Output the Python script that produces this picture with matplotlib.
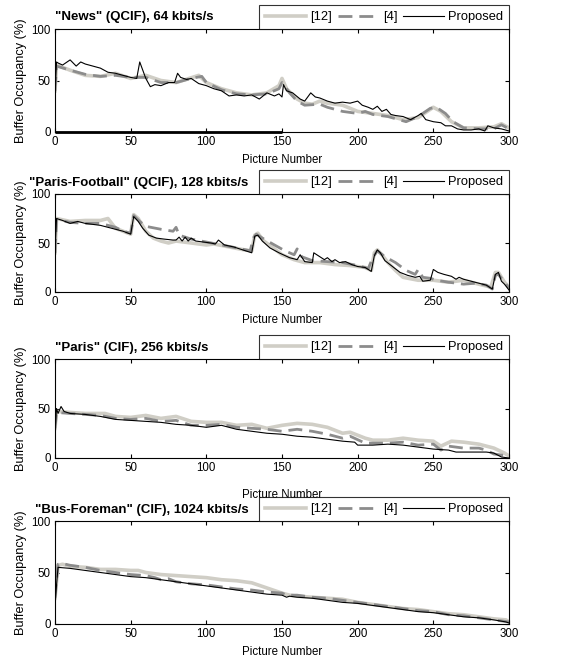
import matplotlib
matplotlib.use("Agg")
import matplotlib.pyplot as plt

plt.rcParams['font.family'] = ['Liberation Sans', 'DejaVu Sans']

titles = ['"News" (QCIF), 64 kbits/s',
          '"Paris-Football" (QCIF), 128 kbits/s',
          '"Paris" (CIF), 256 kbits/s',
          '"Bus-Foreman" (CIF), 1024 kbits/s']
series_names = ['[12]', '[4]', 'Proposed']
xticks = [0, 50, 100, 150, 200, 250, 300]
yticks = [0, 50, 100]

# ---- Panel 1: News ----
news_ref12_x = [0, 1, 10, 20, 30, 40, 50, 60, 70, 80, 95, 100, 110, 120, 130, 140, 148, 150, 153, 160, 165, 170, 175, 180, 190, 200, 210, 220, 230, 240, 250, 255, 262, 270, 280, 290, 295, 300]
news_ref12_y = [40, 65, 60, 55, 54, 57, 52, 55, 50, 48, 55, 48, 42, 38, 36, 38, 45, 52, 42, 32, 28, 27, 30, 28, 26, 20, 18, 16, 12, 14, 24, 20, 10, 4, 4, 5, 8, 4]
news_ref4_x = [0, 1, 10, 20, 30, 40, 50, 60, 70, 80, 90, 97, 100, 110, 120, 130, 140, 148, 150, 155, 160, 165, 175, 180, 190, 200, 205, 210, 220, 232, 240, 248, 252, 258, 263, 270, 280, 290, 295, 300]
news_ref4_y = [40, 64, 60, 56, 54, 55, 53, 53, 48, 48, 52, 54, 48, 41, 37, 36, 37, 42, 48, 38, 30, 26, 27, 24, 20, 18, 20, 17, 15, 10, 15, 23, 24, 18, 10, 4, 3, 3, 7, 3]
news_prop_x = [0, 1, 2, 5, 10, 14, 17, 20, 25, 30, 35, 40, 45, 50, 54, 56, 58, 60, 63, 66, 70, 75, 79, 81, 83, 87, 90, 92, 95, 100, 105, 110, 115, 120, 125, 130, 135, 140, 145, 148, 150, 151, 153, 157, 162, 165, 169, 172, 175, 180, 185, 190, 195, 200, 203, 207, 210, 213, 216, 219, 222, 225, 230, 235, 240, 242, 245, 250, 255, 258, 262, 266, 270, 275, 280, 284, 286, 290, 295, 300]
news_prop_y = [35, 68, 67, 65, 70, 64, 68, 66, 64, 62, 58, 57, 55, 53, 52, 68, 60, 52, 44, 46, 45, 48, 48, 57, 53, 51, 52, 50, 47, 45, 42, 40, 35, 36, 35, 36, 32, 38, 35, 37, 34, 46, 40, 38, 32, 30, 38, 34, 33, 30, 28, 29, 28, 30, 26, 24, 22, 25, 20, 22, 17, 16, 15, 12, 16, 18, 12, 10, 9, 6, 6, 3, 2, 2, 3, 1, 6, 4, 3, 1]
news_floor_x = [0, 150]
news_floor_y = [0, 0]

# ---- Panel 2: Paris-Football ----
pf_ref12_x = [0, 1, 10, 20, 30, 35, 40, 45, 50, 52, 55, 60, 65, 70, 75, 80, 90, 100, 105, 115, 125, 130, 132, 134, 138, 145, 150, 158, 165, 175, 185, 195, 205, 209, 211, 213, 216, 220, 225, 230, 240, 250, 260, 270, 280, 288, 291, 293, 297, 300]
pf_ref12_y = [40, 75, 72, 73, 73, 75, 65, 62, 59, 79, 75, 62, 55, 52, 50, 52, 50, 48, 49, 46, 43, 42, 58, 60, 52, 44, 38, 33, 30, 30, 28, 27, 25, 22, 40, 43, 38, 30, 22, 15, 12, 12, 10, 12, 8, 5, 20, 20, 10, 5]
pf_ref4_x = [0, 1, 10, 20, 30, 40, 45, 50, 52, 56, 60, 70, 78, 80, 82, 90, 100, 110, 120, 129, 131, 133, 137, 145, 152, 158, 160, 163, 170, 180, 190, 200, 207, 210, 213, 218, 225, 232, 238, 240, 243, 248, 252, 260, 270, 278, 285, 289, 291, 293, 297, 300]
pf_ref4_y = [40, 74, 71, 70, 70, 66, 62, 60, 78, 72, 67, 64, 62, 66, 58, 54, 51, 48, 45, 42, 55, 59, 55, 48, 42, 38, 44, 36, 32, 31, 30, 27, 24, 35, 42, 36, 30, 22, 18, 23, 15, 14, 12, 10, 8, 9, 7, 3, 17, 18, 10, 4]
pf_prop_x = [0, 1, 5, 10, 15, 20, 25, 30, 35, 40, 45, 50, 52, 55, 58, 62, 67, 72, 78, 80, 82, 84, 86, 88, 90, 93, 98, 103, 106, 108, 112, 118, 124, 130, 132, 134, 137, 142, 148, 155, 160, 162, 165, 170, 171, 175, 178, 180, 183, 185, 188, 192, 196, 200, 205, 209, 211, 213, 215, 218, 223, 228, 233, 238, 241, 243, 248, 250, 253, 257, 262, 265, 267, 270, 275, 280, 285, 289, 291, 293, 295, 297, 300]
pf_prop_y = [40, 75, 73, 70, 72, 70, 69, 68, 66, 64, 62, 59, 77, 72, 65, 58, 55, 54, 53, 53, 56, 52, 56, 52, 55, 52, 51, 50, 49, 53, 48, 46, 43, 40, 57, 58, 52, 45, 40, 35, 33, 38, 31, 30, 40, 36, 33, 35, 31, 33, 30, 31, 28, 26, 25, 21, 37, 43, 40, 32, 26, 20, 17, 15, 16, 11, 12, 23, 20, 18, 16, 13, 15, 13, 11, 9, 7, 3, 18, 20, 11, 8, 2]

# ---- Panel 3: Paris ----
paris_ref12_x = [0, 1, 10, 20, 33, 40, 50, 60, 70, 80, 90, 100, 110, 120, 130, 140, 150, 160, 170, 180, 185, 190, 195, 205, 210, 220, 230, 240, 250, 255, 262, 270, 280, 290, 297, 300]
paris_ref12_y = [30, 47, 46, 45, 45, 42, 41, 43, 40, 42, 37, 36, 36, 33, 34, 30, 33, 35, 34, 31, 28, 25, 26, 20, 18, 18, 20, 18, 17, 12, 17, 16, 14, 10, 5, 2]
paris_ref4_x = [0, 1, 10, 20, 30, 40, 50, 60, 70, 80, 90, 100, 110, 120, 130, 140, 150, 160, 170, 180, 190, 195, 205, 210, 220, 230, 240, 250, 255, 260, 270, 280, 285, 290, 300]
paris_ref4_y = [30, 46, 45, 44, 43, 40, 39, 40, 37, 38, 33, 33, 34, 31, 30, 29, 27, 29, 27, 24, 20, 22, 15, 15, 15, 16, 13, 14, 8, 12, 10, 10, 8, 4, 2]
paris_prop_x = [0, 1, 2, 4, 6, 10, 20, 30, 40, 50, 60, 70, 80, 90, 100, 110, 120, 130, 140, 150, 160, 170, 180, 190, 198, 200, 210, 220, 230, 240, 250, 260, 265, 280, 285, 290, 295, 300]
paris_prop_y = [25, 50, 45, 52, 47, 45, 44, 42, 39, 38, 37, 36, 34, 33, 31, 33, 29, 27, 25, 24, 22, 21, 19, 17, 16, 13, 13, 14, 13, 11, 9, 8, 6, 6, 6, 5, 1, 0]

# ---- Panel 4: Bus-Foreman ----
bus_ref12_x = [0, 2, 5, 10, 20, 30, 40, 50, 55, 60, 70, 80, 90, 100, 110, 120, 130, 140, 150, 155, 160, 170, 180, 190, 200, 210, 220, 230, 240, 250, 260, 270, 280, 290, 298, 300]
bus_ref12_y = [25, 57, 58, 56, 55, 53, 53, 52, 52, 50, 48, 47, 46, 45, 43, 42, 40, 35, 30, 28, 27, 26, 25, 24, 21, 19, 17, 15, 14, 12, 10, 9, 7, 5, 4, 2]
bus_ref4_x = [0, 2, 4, 10, 20, 30, 40, 50, 60, 66, 70, 75, 80, 90, 100, 110, 120, 130, 140, 150, 153, 160, 170, 180, 190, 200, 210, 220, 230, 240, 250, 260, 270, 280, 290, 300]
bus_ref4_y = [25, 58, 59, 57, 55, 52, 50, 48, 47, 45, 43, 44, 41, 39, 38, 36, 34, 33, 31, 30, 28, 28, 26, 25, 23, 21, 19, 17, 15, 13, 12, 9, 8, 6, 4, 2]
bus_prop_x = [0, 2, 10, 20, 30, 40, 50, 60, 70, 80, 90, 100, 110, 120, 130, 140, 150, 153, 155, 160, 170, 180, 190, 200, 210, 220, 230, 240, 250, 260, 270, 280, 290, 298, 300]
bus_prop_y = [20, 55, 54, 52, 50, 48, 46, 45, 43, 41, 39, 37, 35, 33, 31, 29, 28, 26, 27, 26, 25, 23, 21, 20, 18, 16, 14, 12, 11, 9, 7, 6, 4, 2, 1]

panels = [
    ((news_ref12_x, news_ref12_y), (news_ref4_x, news_ref4_y), (news_prop_x, news_prop_y)),
    ((pf_ref12_x, pf_ref12_y), (pf_ref4_x, pf_ref4_y), (pf_prop_x, pf_prop_y)),
    ((paris_ref12_x, paris_ref12_y), (paris_ref4_x, paris_ref4_y), (paris_prop_x, paris_prop_y)),
    ((bus_ref12_x, bus_ref12_y), (bus_ref4_x, bus_ref4_y), (bus_prop_x, bus_prop_y)),
]

W, H = 582, 661
fig = plt.figure(figsize=(W / 100, H / 100), dpi=100)

# axes pixel boxes: (top, bottom)
boxes = [(29, 132), (194, 292), (359, 458), (521, 624)]
left_px, right_px = 55, 509
title_x_px = [55, 29, 55, 35]
title_y_px = [17, 183, 348, 510]
xlabel_pad = [4, 4, 11, 4]

styles = [
    dict(color='#d0cec6', lw=2.6, ls='-'),
    dict(color='#8c8c8c', lw=2.0, ls=(0, (5, 2.5))),
    dict(color='black', lw=0.8, ls='-'),
]

for i, (top, bot) in enumerate(boxes):
    ax = fig.add_axes([left_px / W, 1 - bot / H, (right_px - left_px) / W, (bot - top) / H])
    handles = []
    for (xs, ys), name, st in zip(panels[i], series_names, styles):
        h, = ax.plot(xs, ys, label=name, **st)
        handles.append(h)
    if i == 0:
        ax.plot(news_floor_x, news_floor_y, color='black', lw=2.0, solid_capstyle='butt', clip_on=False)
    ax.set_xlim(0, 300)
    ax.set_ylim(0, 100)
    ax.set_xticks(xticks)
    ax.set_yticks(yticks)
    ax.tick_params(direction='in', top=True, right=True, labelsize=8.3, length=3, width=0.8, pad=3)
    for sp in ax.spines.values():
        sp.set_linewidth(0.8)
    ax.set_xlabel('Picture Number', fontsize=8.3, labelpad=xlabel_pad[i])
    ax.set_ylabel('Buffer Occupancy (%)', fontsize=9.2, labelpad=3)
    ax_h = bot - top
    leg = ax.legend(handles=handles, loc='lower left', ncol=3, mode='expand',
                    bbox_to_anchor=(204 / 454, 1.0, 250 / 454, 25 / ax_h),
                    borderaxespad=0, fancybox=False, frameon=True, fontsize=9.3,
                    handlelength=3.2, handletextpad=0.3, columnspacing=0.5,
                    borderpad=0.45)
    leg.get_frame().set_edgecolor('black')
    leg.get_frame().set_linewidth(0.8)
    ax.text((title_x_px[i] - left_px) / (right_px - left_px), 1 + (top - title_y_px[i]) / ax_h, titles[i],
            transform=ax.transAxes, fontsize=9.5, fontweight='bold', va='center', ha='left')

fig.savefig('out.png', dpi=100)
